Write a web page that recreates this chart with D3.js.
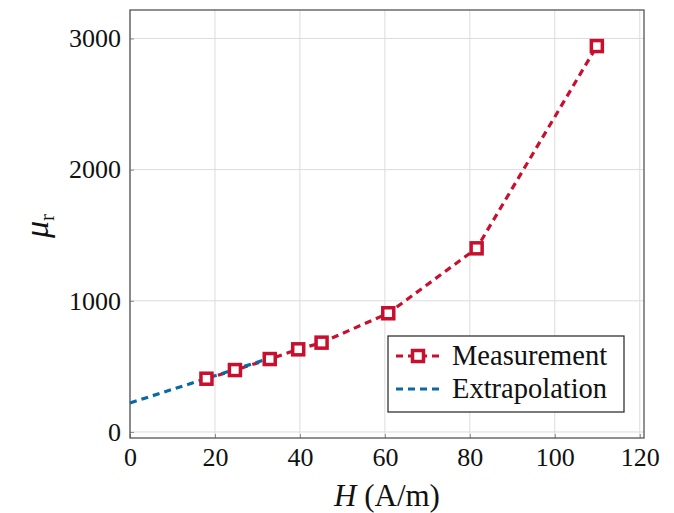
<!DOCTYPE html>
<html>
<head>
<meta charset="utf-8">
<script src="https://cdn.jsdelivr.net/npm/d3@7"></script>
</head>
<body style="margin:0; background:#fff">
<script>
// chart data
var measH = [18.0, 24.7, 32.9, 39.6, 45.1, 60.8, 81.6, 109.9];
var measMu = [406, 472, 556, 630, 681, 905, 1400, 2942];
var extraH = [0, 18.0, 24.7, 32.9];
var extraMu = [221, 408, 477, 563];
var xTicks = [0, 20, 40, 60, 80, 100, 120];
var yTicks = [0, 1000, 2000, 3000];
var seriesNames = ["Measurement", "Extrapolation"];

var w = 674, h = 513;
var red = "#c8102e", blue = "#0a69a3";
var fontName = "Liberation Serif";

var svg = d3.select("body").append("svg")
    .attr("width", w)
    .attr("height", h)
    .attr("font-family", fontName);

var x = d3.scaleLinear().domain([0, 121]).range([130, 644]);
var y = d3.scaleLinear().domain([-46, 3217]).range([438, 10]);

// grid lines
svg.append("g").selectAll("line").data(xTicks).enter().append("line")
    .attr("x1", function(d){ return x(d); }).attr("x2", function(d){ return x(d); })
    .attr("y1", 10).attr("y2", 438)
    .attr("stroke", "#dcdcdc").attr("stroke-width", 1);
svg.append("g").selectAll("line").data(yTicks).enter().append("line")
    .attr("x1", 130).attr("x2", 644)
    .attr("y1", function(d){ return y(d); }).attr("y2", function(d){ return y(d); })
    .attr("stroke", "#dcdcdc").attr("stroke-width", 1);

// axes (ticks inside, labels outside)
var xAxis = svg.append("g")
    .attr("transform", "translate(0,438)")
    .call(d3.axisBottom(x).tickValues(xTicks).tickSizeInner(-4).tickSizeOuter(0).tickPadding(10));
var yAxis = svg.append("g")
    .attr("transform", "translate(130,0)")
    .call(d3.axisLeft(y).tickValues(yTicks).tickSizeInner(-4).tickSizeOuter(0).tickPadding(9).tickFormat(d3.format("d")));
[xAxis, yAxis].forEach(function(a){
    a.attr("font-family", fontName).attr("font-size", 26);
    a.select(".domain").remove();
    a.selectAll("line").attr("stroke", "#8a8a8a");
    a.selectAll("text").attr("font-family", fontName).attr("fill", "#111");
});

// frame
svg.append("rect")
    .attr("x", 130).attr("y", 10).attr("width", 514).attr("height", 428)
    .attr("fill", "none").attr("stroke", "#555").attr("stroke-width", 1.3);

var line = d3.line()
    .x(function(d){ return x(d[0]); })
    .y(function(d){ return y(d[1]); });

var extraPts = extraH.map(function(v, i){ return [v, extraMu[i]]; });
var measPts = measH.map(function(v, i){ return [v, measMu[i]]; });

svg.append("path").datum(measPts)
    .attr("d", line)
    .attr("fill", "none").attr("stroke", red)
    .attr("stroke-width", 3.2).attr("stroke-dasharray", "7,5");

svg.append("path").datum(extraPts)
    .attr("d", line)
    .attr("fill", "none").attr("stroke", blue)
    .attr("stroke-width", 3.2).attr("stroke-dasharray", "7,5");

svg.selectAll(".marker").data(measPts).enter().append("rect")
    .attr("class", "marker")
    .attr("x", function(d){ return x(d[0]) - 5.5; })
    .attr("y", function(d){ return y(d[1]) - 5.5; })
    .attr("width", 11).attr("height", 11)
    .attr("fill", "#fff").attr("stroke", red).attr("stroke-width", 3.5);

// legend
var lg = svg.append("g").attr("transform", "translate(388,336)");
lg.append("rect")
    .attr("width", 236).attr("height", 76)
    .attr("fill", "#fff").attr("stroke", "#222").attr("stroke-width", 1.2);
[red, blue].forEach(function(c, i){
    var yy = 20 + i * 33;
    lg.append("line")
        .attr("x1", 8).attr("x2", 52).attr("y1", yy).attr("y2", yy)
        .attr("stroke", c).attr("stroke-width", 3.2).attr("stroke-dasharray", "7,5");
    if (i === 0) {
        lg.append("rect")
            .attr("x", 24.5).attr("y", yy - 5.5).attr("width", 11).attr("height", 11)
            .attr("fill", "#fff").attr("stroke", c).attr("stroke-width", 3.5);
    }
    lg.append("text")
        .attr("x", 64).attr("y", yy + 9)
        .attr("font-family", fontName)
        .attr("font-size", 28.5)
        .attr("fill", "#111")
        .text(seriesNames[i]);
});

// axis titles
var xt = svg.append("text")
    .attr("x", 387).attr("y", 506)
    .attr("text-anchor", "middle")
    .attr("font-family", fontName)
    .attr("font-size", 31)
    .attr("fill", "#111");
xt.append("tspan").attr("font-style", "italic").text("H");
xt.append("tspan").text(" (A/m)");

var yt = svg.append("text")
    .attr("transform", "translate(48,226) rotate(-90)")
    .attr("text-anchor", "middle")
    .attr("font-family", fontName)
    .attr("font-size", 34)
    .attr("fill", "#111");
yt.append("tspan").attr("font-style", "italic").text("μ");
yt.append("tspan").attr("dy", 6).attr("font-size", 21).text("r");
</script>
</body>
</html>
